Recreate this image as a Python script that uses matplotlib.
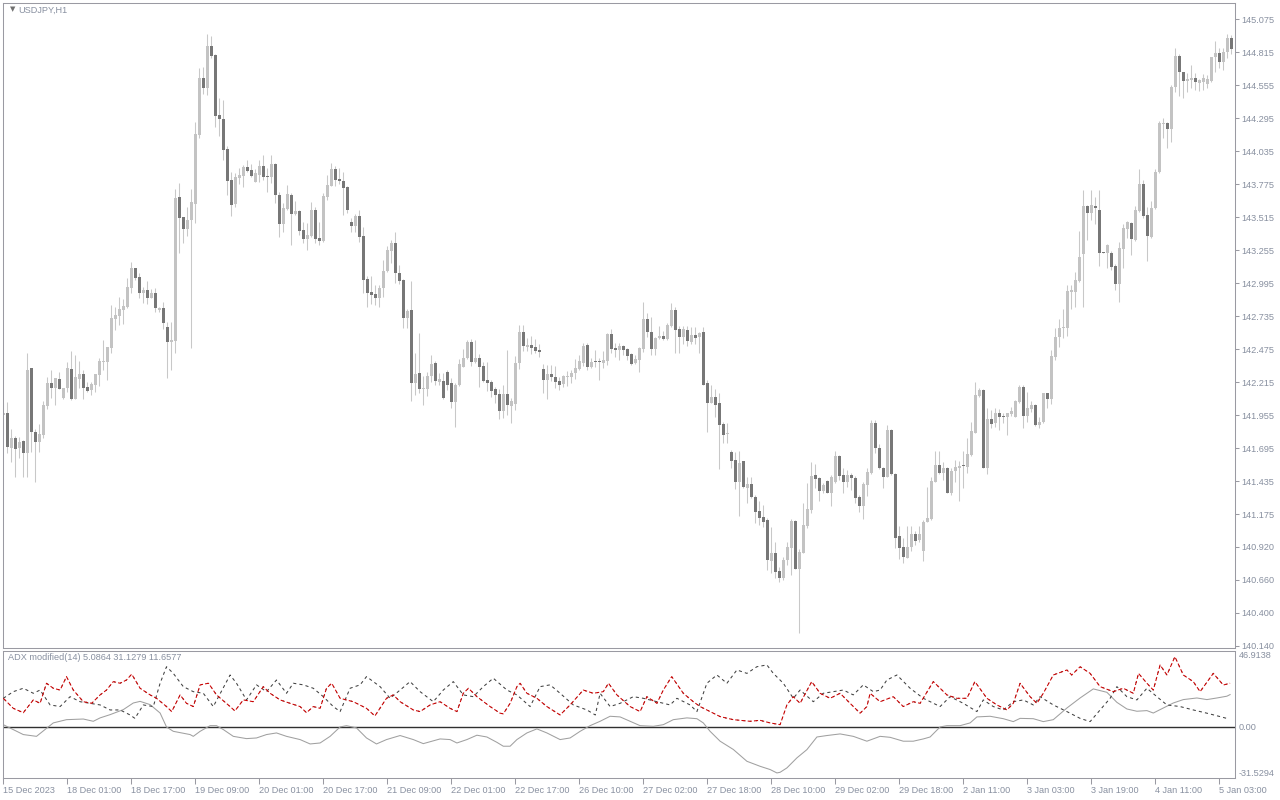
import matplotlib
matplotlib.use("Agg")
import matplotlib.pyplot as plt
import numpy as np

# ---------------- data (USDJPY H1, bar index 0..307) ----------------
open_ = [141.958, 141.973, 141.697, 141.776, 141.697, 141.753, 141.658, 142.327, 141.823, 141.745,
         141.800, 142.028, 142.209, 142.170, 142.241, 142.091, 142.170, 142.320, 142.083, 142.241,
         142.280, 142.178, 142.154, 142.193, 142.272, 142.375, 142.375, 142.485, 142.713, 142.737,
         142.784, 142.808, 142.957, 143.115, 143.044, 142.918, 142.942, 142.878, 142.918, 142.784,
         142.800, 142.650, 142.532, 142.540, 143.674, 143.516, 143.422, 143.493, 143.619, 144.162,
         144.611, 144.532, 144.863, 144.792, 144.320, 144.288, 144.052, 143.808, 143.619, 143.824,
         143.839, 143.910, 143.886, 143.792, 143.847, 143.918, 143.839, 143.831, 143.934, 143.690,
         143.461, 143.579, 143.690, 143.540, 143.564, 143.414, 143.343, 143.367, 143.571, 143.351,
         143.327, 143.674, 143.760, 143.894, 143.816, 143.800, 143.753, 143.477, 143.446, 143.524,
         143.367, 143.028, 142.926, 142.910, 142.878, 142.957, 143.091, 143.249, 143.312, 143.075,
         143.020, 142.721, 142.784, 142.209, 142.288, 142.162, 142.162, 142.265, 142.367, 142.217,
         142.225, 142.296, 142.209, 142.059, 142.193, 142.335, 142.406, 142.532, 142.375, 142.406,
         142.343, 142.233, 142.217, 142.162, 142.123, 141.989, 142.123, 142.028, 142.044, 142.367,
         142.611, 142.493, 142.509, 142.493, 142.469, 142.320, 142.233, 142.280, 142.256, 142.225,
         142.201, 142.256, 142.256, 142.288, 142.320, 142.367, 142.509, 142.335, 142.375, 142.375,
         142.367, 142.382, 142.595, 142.485, 142.469, 142.500, 142.477, 142.438, 142.367, 142.390,
         142.477, 142.713, 142.611, 142.477, 142.564, 142.579, 142.556, 142.658, 142.784, 142.634,
         142.571, 142.627, 142.532, 142.587, 142.571, 142.611, 142.209, 142.052, 142.099, 142.052,
         141.886, 141.808, 141.666, 141.603, 141.430, 141.595, 141.383, 141.414, 141.311, 141.201,
         141.154, 141.131, 140.808, 140.871, 140.729, 140.674, 140.816, 140.910, 141.123, 140.745,
         140.871, 141.083, 141.209, 141.485, 141.461, 141.359, 141.438, 141.343, 141.430, 141.634,
         141.485, 141.430, 141.485, 141.461, 141.312, 141.241, 141.406, 141.501, 141.894, 141.697,
         141.540, 141.469, 141.839, 141.493, 141.005, 140.918, 140.831, 140.918, 141.020, 140.973,
         140.886, 141.115, 141.139, 141.430, 141.563, 141.501, 141.540, 141.343, 141.516, 141.540,
         141.556, 141.548, 141.642, 141.816, 142.107, 142.154, 141.540, 141.926, 141.894, 141.973,
         141.949, 141.942, 141.965, 141.942, 142.059, 142.178, 141.949, 142.005, 142.036, 141.879,
         141.902, 142.131, 142.083, 142.414, 142.571, 142.642, 142.642, 142.926, 142.926, 143.012,
         143.225, 143.603, 143.548, 143.603, 143.571, 143.241, 143.233, 143.233, 143.130, 142.989,
         143.264, 143.422, 143.469, 143.335, 143.564, 143.776, 143.532, 143.359, 143.587, 143.871,
         144.249, 144.257, 144.209, 144.540, 144.784, 144.658, 144.587, 144.595, 144.611, 144.571,
         144.579, 144.564, 144.587, 144.776, 144.808, 144.737, 144.816, 144.926]

high = [142.051, 142.059, 141.847, 141.792, 141.784, 141.760, 142.445, 142.327, 141.847, 141.886,
        142.067, 142.256, 142.312, 142.249, 142.296, 142.170, 142.375, 142.461, 142.430, 142.382,
        142.312, 142.217, 142.217, 142.272, 142.406, 142.548, 142.493, 142.823, 142.808, 142.887,
        142.871, 143.036, 143.162, 143.115, 143.075, 142.965, 143.012, 142.949, 142.957, 142.808,
        142.847, 142.690, 142.690, 143.737, 143.784, 143.516, 143.595, 143.737, 144.264, 144.690,
        144.698, 144.957, 144.942, 144.800, 144.453, 144.438, 144.075, 143.871, 143.863, 143.902,
        143.926, 143.965, 143.934, 143.894, 143.965, 144.005, 143.902, 144.005, 143.942, 143.713,
        143.627, 143.768, 143.705, 143.642, 143.571, 143.477, 143.469, 143.635, 143.595, 143.477,
        143.705, 143.847, 143.942, 143.918, 143.902, 143.871, 143.760, 143.508, 143.540, 143.571,
        143.438, 143.052, 143.052, 142.981, 142.981, 143.178, 143.288, 143.335, 143.398, 143.139,
        143.028, 142.792, 143.012, 142.445, 142.603, 142.265, 142.296, 142.430, 142.382, 142.288,
        142.288, 142.312, 142.249, 142.209, 142.398, 142.477, 142.548, 142.556, 142.548, 142.438,
        142.375, 142.375, 142.233, 142.178, 142.162, 142.193, 142.469, 142.091, 142.422, 142.666,
        142.666, 142.564, 142.579, 142.556, 142.516, 142.359, 142.351, 142.351, 142.343, 142.256,
        142.272, 142.304, 142.312, 142.398, 142.430, 142.524, 142.524, 142.406, 142.469, 142.406,
        142.461, 142.603, 142.634, 142.524, 142.524, 142.509, 142.485, 142.445, 142.430, 142.493,
        142.847, 142.760, 142.729, 142.571, 142.658, 142.619, 142.682, 142.839, 142.808, 142.658,
        142.658, 142.658, 142.650, 142.650, 142.611, 142.650, 142.233, 142.193, 142.162, 142.131,
        141.902, 141.894, 141.682, 141.666, 141.674, 141.595, 141.469, 141.469, 141.327, 141.280,
        141.249, 141.146, 141.075, 140.957, 140.761, 140.839, 140.957, 141.139, 141.131, 140.902,
        141.265, 141.422, 141.587, 141.571, 141.469, 141.422, 141.446, 141.485, 141.674, 141.642,
        141.540, 141.524, 141.501, 141.477, 141.327, 141.430, 141.540, 141.918, 141.918, 141.729,
        141.548, 141.878, 141.847, 141.501, 141.083, 140.989, 141.083, 141.083, 141.044, 141.083,
        141.131, 141.390, 141.469, 141.674, 141.674, 141.587, 141.548, 141.540, 141.603, 141.595,
        141.674, 141.776, 141.902, 142.217, 142.170, 142.162, 142.012, 141.997, 142.012, 142.005,
        141.973, 141.973, 142.020, 142.075, 142.193, 142.193, 142.138, 142.067, 142.044, 141.942,
        142.131, 142.131, 142.469, 142.642, 142.713, 142.792, 142.981, 142.981, 143.083, 143.406,
        143.729, 143.611, 143.729, 143.674, 143.729, 143.241, 143.304, 143.249, 143.146, 143.320,
        143.461, 143.485, 143.477, 143.603, 143.894, 143.808, 143.595, 143.642, 143.894, 144.272,
        144.296, 144.264, 144.556, 144.847, 144.800, 144.658, 144.650, 144.713, 144.650, 144.603,
        144.642, 144.635, 144.776, 144.902, 144.847, 144.847, 144.957, 144.950]

low = [141.800, 141.658, 141.587, 141.469, 141.619, 141.469, 141.469, 141.666, 141.430, 141.666,
       141.776, 142.005, 142.091, 142.036, 142.162, 142.083, 142.138, 142.075, 142.083, 142.170,
       142.083, 142.138, 142.115, 142.138, 142.186, 142.312, 142.233, 142.445, 142.627, 142.666,
       142.674, 142.800, 142.918, 143.020, 142.878, 142.839, 142.831, 142.878, 142.768, 142.768,
       142.634, 142.249, 142.312, 142.445, 143.233, 143.312, 143.367, 142.485, 143.469, 144.138,
       144.485, 144.477, 144.768, 144.225, 144.154, 143.965, 143.690, 143.524, 143.595, 143.776,
       143.753, 143.871, 143.831, 143.792, 143.792, 143.808, 143.713, 143.784, 143.627, 143.359,
       143.398, 143.571, 143.296, 143.532, 143.375, 143.312, 143.257, 143.359, 143.312, 143.296,
       143.320, 143.650, 143.760, 143.760, 143.776, 143.532, 143.548, 143.398, 143.398, 143.320,
       142.918, 142.808, 142.831, 142.823, 142.808, 142.887, 143.083, 143.154, 142.997, 142.989,
       142.642, 142.642, 142.067, 142.115, 142.131, 142.036, 142.107, 142.217, 142.193, 142.193,
       142.083, 142.154, 142.012, 141.863, 142.186, 142.335, 142.398, 142.343, 142.367, 142.178,
       142.217, 142.146, 142.099, 142.052, 141.926, 141.934, 141.957, 141.894, 141.997, 142.319,
       142.461, 142.461, 142.438, 142.445, 142.414, 142.131, 142.083, 142.225, 142.170, 142.154,
       142.178, 142.186, 142.209, 142.241, 142.312, 142.343, 142.312, 142.327, 142.335, 142.233,
       142.327, 142.351, 142.445, 142.414, 142.390, 142.430, 142.390, 142.351, 142.359, 142.296,
       142.453, 142.571, 142.430, 142.430, 142.556, 142.548, 142.548, 142.650, 142.445, 142.445,
       142.516, 142.501, 142.516, 142.516, 142.445, 142.193, 141.823, 142.052, 141.942, 141.532,
       141.737, 141.737, 141.540, 141.375, 141.162, 141.383, 141.264, 141.304, 141.107, 141.091,
       141.075, 140.737, 140.713, 140.674, 140.642, 140.658, 140.776, 140.698, 140.745, 140.241,
       140.871, 141.068, 141.186, 141.383, 141.280, 141.343, 141.343, 141.241, 141.422, 141.446,
       141.343, 141.390, 141.367, 141.265, 141.194, 141.139, 141.320, 141.493, 141.658, 141.532,
       141.383, 141.469, 141.485, 140.910, 140.824, 140.792, 140.831, 140.886, 140.934, 140.957,
       140.808, 141.115, 141.131, 141.430, 141.493, 141.446, 141.343, 141.327, 141.430, 141.280,
       141.383, 141.501, 141.634, 141.816, 142.099, 141.540, 141.493, 141.855, 141.863, 141.839,
       141.894, 141.800, 141.949, 141.942, 142.052, 141.855, 141.902, 141.981, 141.871, 141.855,
       141.894, 142.012, 142.044, 142.390, 142.493, 142.564, 142.579, 142.792, 142.808, 143.004,
       142.808, 143.335, 143.493, 143.461, 143.130, 143.233, 143.115, 143.099, 142.942, 142.847,
       143.115, 143.351, 143.217, 143.327, 143.556, 143.508, 143.170, 143.351, 143.579, 143.863,
       144.138, 144.060, 144.107, 144.501, 144.469, 144.453, 144.501, 144.532, 144.516, 144.508,
       144.516, 144.532, 144.579, 144.658, 144.690, 144.674, 144.768, 144.800]

close = [141.973, 141.705, 141.776, 141.690, 141.745, 141.658, 142.312, 141.823, 141.745, 141.808,
         142.036, 142.209, 142.170, 142.249, 142.162, 142.170, 142.327, 142.083, 142.256, 142.280,
         142.170, 142.146, 142.201, 142.280, 142.382, 142.382, 142.493, 142.721, 142.745, 142.792,
         142.816, 142.965, 143.115, 143.036, 142.918, 142.942, 142.878, 142.918, 142.800, 142.800,
         142.681, 142.532, 142.548, 143.666, 143.508, 143.422, 143.493, 143.635, 144.170, 144.611,
         144.532, 144.863, 144.784, 144.312, 144.288, 144.044, 143.800, 143.611, 143.831, 143.847,
         143.910, 143.878, 143.839, 143.863, 143.918, 143.831, 143.831, 143.934, 143.690, 143.461,
         143.587, 143.698, 143.540, 143.564, 143.406, 143.343, 143.375, 143.571, 143.343, 143.327,
         143.682, 143.768, 143.894, 143.808, 143.800, 143.745, 143.571, 143.446, 143.524, 143.359,
         143.020, 142.918, 142.902, 142.878, 142.957, 143.091, 143.257, 143.312, 143.075, 143.012,
         142.721, 142.776, 142.209, 142.280, 142.162, 142.170, 142.265, 142.359, 142.225, 142.241,
         142.091, 142.193, 142.059, 142.193, 142.359, 142.406, 142.532, 142.375, 142.406, 142.335,
         142.225, 142.209, 142.146, 142.115, 141.989, 142.123, 142.036, 142.067, 142.367, 142.611,
         142.500, 142.509, 142.485, 142.461, 142.453, 142.233, 142.280, 142.256, 142.217, 142.193,
         142.265, 142.265, 142.288, 142.327, 142.382, 142.500, 142.335, 142.375, 142.375, 142.375,
         142.390, 142.595, 142.477, 142.469, 142.500, 142.469, 142.422, 142.359, 142.398, 142.485,
         142.713, 142.611, 142.477, 142.564, 142.579, 142.556, 142.666, 142.784, 142.627, 142.571,
         142.634, 142.540, 142.587, 142.564, 142.603, 142.193, 142.052, 142.099, 142.036, 141.879,
         141.800, 141.816, 141.595, 141.430, 141.579, 141.390, 141.414, 141.311, 141.194, 141.146,
         141.115, 140.816, 140.871, 140.721, 140.674, 140.816, 140.918, 141.123, 140.745, 140.879,
         141.091, 141.217, 141.477, 141.454, 141.359, 141.406, 141.343, 141.469, 141.634, 141.477,
         141.430, 141.485, 141.461, 141.304, 141.241, 141.414, 141.508, 141.894, 141.697, 141.540,
         141.469, 141.839, 141.493, 140.989, 140.910, 140.839, 140.918, 141.020, 140.964, 141.020,
         141.115, 141.146, 141.437, 141.563, 141.501, 141.540, 141.343, 141.516, 141.548, 141.556,
         141.556, 141.650, 141.831, 142.115, 142.154, 141.540, 141.926, 141.886, 141.973, 141.942,
         141.942, 141.973, 141.989, 142.067, 142.178, 141.949, 142.012, 142.036, 141.879, 141.902,
         142.131, 142.083, 142.422, 142.571, 142.642, 142.650, 142.934, 142.942, 143.020, 143.202,
         143.603, 143.548, 143.611, 143.587, 143.233, 143.233, 143.296, 143.123, 142.989, 143.272,
         143.430, 143.477, 143.343, 143.571, 143.776, 143.524, 143.367, 143.587, 143.871, 144.257,
         144.257, 144.209, 144.540, 144.784, 144.658, 144.587, 144.603, 144.611, 144.579, 144.595,
         144.611, 144.603, 144.776, 144.808, 144.737, 144.816, 144.926, 144.839]

# ADX modified(14) lines, read as (bar, value) points
line_bars = [0, 5, 8.3, 12.5, 15.8, 20, 22.5, 24.2, 26.7, 30, 32.5, 34.2, 36.7, 39.2, 40.8, 42.5,
             46.7, 47.5, 49.2, 51.7, 53.3, 55, 57.5, 60.8, 63.3, 65.8, 68.3, 70.8, 74.2, 76.7, 79.2,
             81.7, 84.2, 85.8, 88.3, 90.8, 93.3, 95.8, 99.2, 102.5, 105, 109.2, 111.7, 113.4, 115.9,
             118.4, 120.9, 123.4, 125, 126.7, 128.4, 130.9, 133.4, 135.9, 139.2, 141.7, 144.2, 146.7,
             149.2, 151.7, 154.2, 156.7, 159.2, 162.5, 165, 167.5, 170.9, 173.4, 175, 176.7, 179.2,
             182.5, 185.9, 189.2, 191.7, 193.4, 194.2, 195.9, 198.4, 200.9, 203.4, 205.9, 209.2,
             212.5, 215.9, 219.2, 221.7, 225, 227.5, 230, 231.7, 234.2, 235.9, 239.2, 241.7, 243.4,
             246.7, 250, 252.5, 254.2, 257.5, 260, 262.5, 265.9, 269.2, 272.5, 275.9, 278.4, 280.9,
             283.4, 285.9, 287.5, 290, 292.5, 295, 298.4, 300.9, 303.4, 305.9, 306.7]
line_vals = [1.4, -4.7, -5.8, 2.5, 4.5, 4.9, 3.5, 5.6, 7.6, 10.7, 14.8, 15.8, 13.8, 8.6, 0, -2.7,
             -4.7, -5.8, -2.7, 0.8, 0.8, -1.6, -5.8, -7.2, -6.8, -4.7, -3.7, -5.8, -7.8, -10.5, -9.9,
             -5.8, 0, 0.8, -0.6, -6.8, -10.5, -7.8, -5.3, -7.8, -10.3, -7.4, -7.8, -9.9, -7.8,
             -5.1, -6.2, -9.5, -11.9, -11.9, -7.8, -3.7, -1.2, -3.7, -7.8, -6.8, -2.7, 0.8,
             3.5, 6.6, 6.2, 3.5, 0.8, 0.4, 1.4, 4.5, 5.6, 5.1, 2.5, -2.7, -8.8,
             -13.9, -21.2, -24.3, -26.3, -28.4, -28.0, -25.3, -19.1, -14.0, -6.2, -5.3, -4.3,
             -5.8, -8.8, -5.8, -6.4, -8.8, -8.8, -7.4, -6.2, 0, 0.8, 0.8, 2.5, 6.2,
             6.6, 5.1, 3.3, 5.3, 5.1, 3.3, 4.5, 11.7, 17.9, 23.5, 21.4, 15.2, 11.1,
             9.7, 10.1, 8.6, 11.7, 14.8, 16.9, 17.9, 16.9, 17.9, 19.0, 20.0]

plus_bars = [0, 2.5, 5, 7.5, 9.2, 10.8, 12.5, 14.2, 15.8, 17.5, 20, 22.1, 24.2, 25.8, 27.5, 29.2,
             30.8, 32.1, 34.2, 36.7, 38.3, 40.8, 42.1, 44.2, 45.8, 47.5, 49.2, 51.3, 53.3, 56.7,
             57.9, 60, 62.5, 65, 66.7, 69.2, 71.7, 74.2, 75.8, 77.5, 79.2, 80.8, 82.1, 84.2, 87.5,
             90.8, 92.9, 95.8, 97.5, 99.2, 102.5, 104.2, 106.7, 109.2, 111.7, 113.4, 115, 116.3,
             118.4, 121.7, 124.2, 125, 126.7, 128.4, 129.2, 130.9, 133.4, 135.9, 139.2, 141.7, 145,
             147.5, 150, 151.3, 153.4, 156.7, 159.2, 160.9, 163.4, 165, 167.1, 170, 172.5, 174.2,
             176.7, 179.2, 182.5, 186.7, 189.2, 191.7, 194.2, 195.9, 197.5, 199.2, 202.1, 204.2,
             206.7, 209.2, 211.7, 214.2, 215.9, 216.7, 219.2, 222.5, 225, 227.5, 229.2, 232.5,
             235.9, 238.4, 240.9, 242.9, 245.9, 248.4, 250.9, 252.5, 254.2, 256.7, 258.4, 260,
             262.5, 265.9, 267.1, 269.2, 271.7, 274.2, 277.5, 280, 282.5, 283.8, 285.9, 287.5,
             289.2, 290.9, 292.9, 295, 297.5, 299.2, 302.5, 305, 306.7]
plus_vals = [17.7, 11.5, 8.8, 16.7, 14.6, 27.0, 23.9, 22.8, 31.1, 22.8, 15.6, 14.6, 19.8, 22.8, 28.0, 27.0,
             29.0, 32.6, 23.9, 19.8, 17.7, 12.6, 9.5, 19.8, 14.6, 12.6, 26.0, 27.0, 19.8, 12.6,
             9.9, 16.7, 15.6, 24.9, 20.8, 16.7, 14.6, 12.6, 8.8, 12.6, 11.5, 23.9, 27.0, 17.7, 15.6,
             11.5, 6.8, 17.7, 19.8, 15.6, 10.5, 9.5, 13.6, 15.6, 11.5, 9.5, 20.8, 23.9,
             18.7, 12.6, 8.5, 8.1, 14.6, 24.9, 27.0, 20.8, 17.7, 12.6, 7.4, 13.6, 22.8,
             20.8, 21.8, 27.0, 19.8, 12.6, 9.5, 18.7, 14.6, 22.8, 31.1, 20.8, 15.6, 12.6,
             9.5, 6.4, 4.5, 3.5, 4.1, 2.5, 1.4, 13.6, 18.7, 14.6, 28.0, 20.8,
             17.7, 20.8, 14.6, 8.5, 12.6, 20.8, 15.6, 18.7, 12.6, 15.6, 14.6, 28.0,
             19.8, 17.7, 17.7, 28.0, 17.7, 13.6, 10.5, 14.6, 27.0, 18.7, 14.6, 20.8,
             32.1, 35.2, 32.1, 37.2, 33.1, 24.9, 21.8, 23.9, 20.8, 33.1, 27.0, 22.8,
             38.3, 32.1, 43.4, 32.1, 28.0, 21.8, 33.1, 25.9, 27.0]

minus_bars = [0, 2.5, 5, 7.5, 9.2, 11.7, 14.2, 16.7, 19.2, 21.7, 24.2, 26.7, 29.2, 31.7, 32.9, 35,
              37.5, 39.2, 40.8, 42.5, 45, 47.5, 50, 52.5, 56.7, 58.3, 60.8, 63.3, 65.8, 68.3, 70.8,
              72.5, 75, 77.5, 80, 82.5, 84.2, 86.7, 89.2, 90.8, 94.2, 96.7, 99.2, 101.7, 104.2,
              107.5, 110, 112.5, 115, 117.5, 120, 122.5, 125.9, 128.4, 131.7, 134.2, 136.7, 139.2,
              142.5, 145.9, 148, 149.2, 151.7, 154.2, 157.5, 160, 163.4, 166.7, 168.4, 171.7, 173.4,
              175.9, 178.4, 180.9, 183.4, 185.9, 188.4, 190.9, 192.5, 195, 197.5, 199.2, 202.5, 205,
              207.5, 210, 212.5, 215, 217.5, 219.2, 220.9, 223.4, 226.7, 230, 234.2, 236.7, 240,
              243.4, 245, 247.5, 250, 252.5, 255, 257.5, 259.2, 262.5, 265.9, 269.2, 271.7, 274.2,
              276.7, 278.4, 280.9, 283.4, 285.9, 288.4, 290.9, 294.2, 297.5, 300.9, 304.2, 306.3]
minus_vals = [17.7, 21.8, 23.9, 20.8, 22.8, 13.6, 12.6, 18.7, 15.6, 14.6, 13.6, 10.5, 10.5, 7.4, 5.3, 13.6,
              12.6, 27.0, 37.2, 33.1, 24.9, 21.8, 20.8, 12.6, 32.1, 27.0, 16.7, 26.0, 21.8, 29.0, 20.8,
              27.0, 26.0, 23.9, 18.7, 12.6, 9.5, 23.9, 26.0, 31.1, 24.9, 17.7, 22.8, 28.0, 21.8,
              15.6, 22.8, 28.0, 19.8, 18.7, 24.9, 30.1, 22.8, 19.8, 12.6, 24.9, 26.0, 20.8,
              13.6, 10.5, 7.4, 20.8, 12.6, 14.6, 18.7, 17.7, 15.6, 13.6, 17.7, 13.6, 9.5,
              27.0, 32.1, 27.0, 35.2, 33.1, 37.2, 38.3, 33.1, 27.0, 17.7, 22.8, 15.6, 20.8,
              21.8, 22.8, 19.8, 26.0, 21.8, 22.8, 29.0, 32.1, 23.9, 17.7, 12.6, 18.7, 14.6,
              9.5, 16.7, 12.6, 10.5, 15.6, 16.7, 13.6, 18.7, 13.6, 9.5, 5.3, 3.3, 10.5,
              17.7, 24.9, 18.7, 16.7, 23.9, 18.7, 13.6, 12.6, 10.5, 8.5, 6.4, 5.0]

time_labels = ["15 Dec 2023", "18 Dec 01:00", "18 Dec 17:00", "19 Dec 09:00", "20 Dec 01:00",
               "20 Dec 17:00", "21 Dec 09:00", "22 Dec 01:00", "22 Dec 17:00", "26 Dec 10:00",
               "27 Dec 02:00", "27 Dec 18:00", "28 Dec 10:00", "29 Dec 02:00", "29 Dec 18:00",
               "2 Jan 11:00", "3 Jan 03:00", "3 Jan 19:00", "4 Jan 11:00", "5 Jan 03:00"]
time_label_bars = list(range(0, 308, 16))
price_ticks = [145.075, 144.815, 144.555, 144.295, 144.035, 143.775, 143.515, 143.255, 142.995,
               142.735, 142.475, 142.215, 141.955, 141.695, 141.435, 141.175, 140.920, 140.660,
               140.400, 140.140]
ind_ticks = [46.9138, 0.0, -31.5294]
ind_tick_labels = ["46.9138", "0.00", "-31.5294"]
price_range = (140.122, 145.201)

# ---------------- styling ----------------
plt.rcParams['font.family'] = ['Liberation Sans', 'DejaVu Sans']
FS = 6.6
TXT = '#8890a0'
BORDER = '#9a9aa2'
BULL = '#c3c3c3'
BEAR = '#777777'
WICK = '#c8c8c8'
LW = 0.75

W, H = 1280, 800
fig = plt.figure(figsize=(12.8, 8), dpi=100)
fig.patch.set_facecolor('white')
left, right = 2.7, 1234.7
ax = fig.add_axes([left / W, 1 - 648 / H, (right - left) / W, 645 / H])
ax2 = fig.add_axes([left / W, 1 - 778 / H, (right - left) / W, 127 / H], sharex=ax)

o = np.array(open_); c = np.array(close); hi = np.array(high); lo = np.array(low)
x = np.arange(len(o))
up = c > o
body_lo = np.minimum(o, c)
body_h = np.maximum(np.abs(c - o), 0.006)
ax.vlines(x, lo, hi, color=WICK, lw=LW, zorder=1)
ax.bar(x, body_h, bottom=body_lo, width=0.74, color=np.where(up, BULL, BEAR),
       linewidth=0, zorder=2)

ax.set_xlim(-0.15, 307.85)
ax.set_ylim(*price_range)
for a in (ax, ax2):
    for s in a.spines.values():
        s.set_color(BORDER)
        s.set_linewidth(LW)
ax.yaxis.tick_right()
ax.set_yticks(price_ticks)
ax.set_yticklabels([f"{v:.3f}" for v in price_ticks])
ax.tick_params(axis='y', direction='out', length=3, width=LW, color=BORDER,
               labelsize=FS, labelcolor=TXT, pad=2)
ax.tick_params(axis='x', bottom=False, labelbottom=False)

ax.text(0.0058, (648 - 9.5) / 645, '\u25bc', transform=ax.transAxes, fontsize=5, color='#707070',
        va='center', ha='left', family='DejaVu Sans')
ax.text(0.0125, (648 - 10) / 645, 'USDJPY,H1', transform=ax.transAxes, fontsize=FS, color=TXT,
        va='center', ha='left')

# indicator
ax2.plot(line_bars, line_vals, color='#a0a0a0', lw=LW, zorder=2)
ax2.plot(minus_bars, minus_vals, color='#404040', lw=LW, ls=(0, (3, 3)), zorder=3)
ax2.plot(plus_bars, plus_vals, color='#404040', lw=LW, ls=(4, (1, 5)), zorder=3)
ax2.plot(plus_bars, plus_vals, color='#cc0000', lw=LW, ls=(0, (4, 2)), zorder=4)
ax2.axhline(0, color='#303030', lw=1, zorder=1)
ax2.set_ylim(-31.5294, 46.9138)
ax2.yaxis.tick_right()
ax2.set_yticks(ind_ticks)
ax2.set_yticklabels(ind_tick_labels)
ax2.tick_params(axis='y', direction='out', length=0, labelsize=FS, labelcolor=TXT, pad=3)
lbls = ax2.get_yticklabels()
lbls[0].set_va('top'); lbls[2].set_va('bottom')
ax2.set_xticks(time_label_bars)
ax2.set_xticklabels(time_labels, ha='left')
ax2.tick_params(axis='x', direction='out', length=4, width=LW, color=BORDER,
                labelsize=FS, labelcolor=TXT, pad=1.5)
ax2.text(0.0045, (778 - 658) / 127, 'ADX modified(14) 5.0864 31.1279 11.6577', transform=ax2.transAxes,
         fontsize=FS, color=TXT, va='center', ha='left')

fig.savefig('out.png', dpi=100)
